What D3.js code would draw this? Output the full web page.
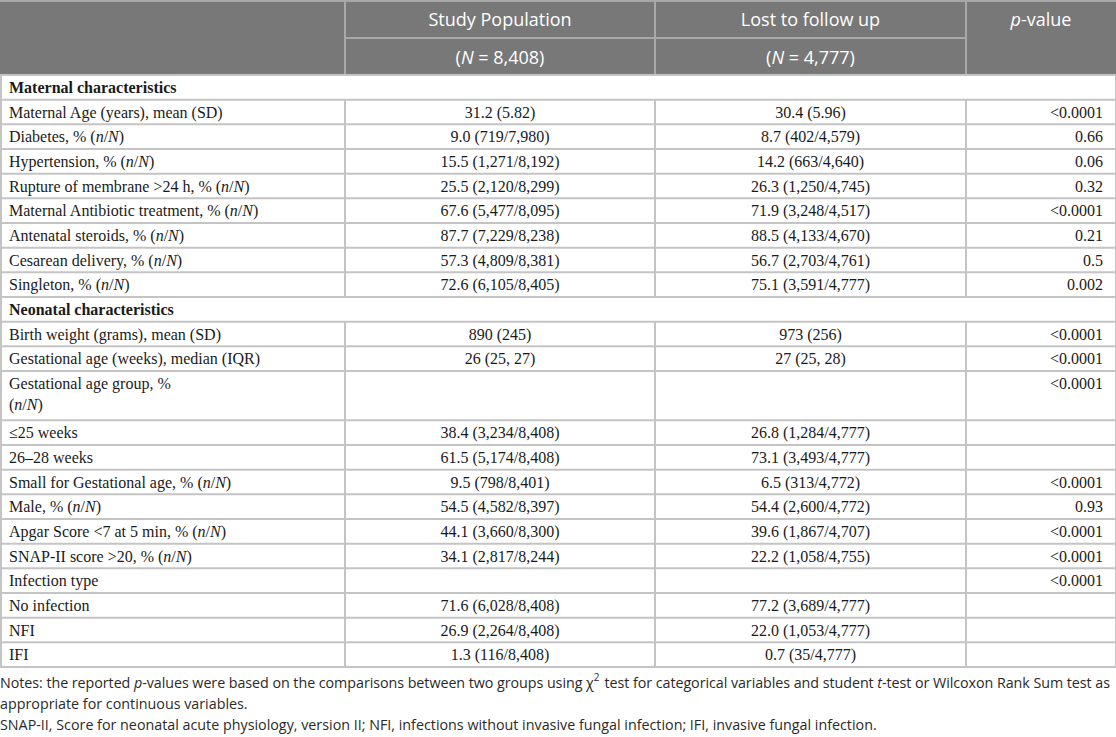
<!DOCTYPE html>
<html>
<head>
<meta charset="utf-8">
<script src="https://cdn.jsdelivr.net/npm/d3@7"></script>
<style>
  body { margin: 0; background: #fff; }
</style>
</head>
<body>
<div class="canvas"></div>
<script>
// table content, *...* marks italic, ^...^ marks superscript
var rowLabels = [
    "Maternal characteristics",
    "Maternal Age (years), mean (SD)",
    "Diabetes, % (*n*/*N*)",
    "Hypertension, % (*n*/*N*)",
    "Rupture of membrane >24 h, % (*n*/*N*)",
    "Maternal Antibiotic treatment, % (*n*/*N*)",
    "Antenatal steroids, % (*n*/*N*)",
    "Cesarean delivery, % (*n*/*N*)",
    "Singleton, % (*n*/*N*)",
    "Neonatal characteristics",
    "Birth weight (grams), mean (SD)",
    "Gestational age (weeks), median (IQR)",
    "Gestational age group, %|(*n*/*N*)",
    "≤25 weeks",
    "26–28 weeks",
    "Small for Gestational age, % (*n*/*N*)",
    "Male, % (*n*/*N*)",
    "Apgar Score <7 at 5 min, % (*n*/*N*)",
    "SNAP-II score >20, % (*n*/*N*)",
    "Infection type",
    "No infection",
    "NFI",
    "IFI"
];
var sectionRows = [0, 9];
var studyValues = ["", "31.2 (5.82)", "9.0 (719/7,980)", "15.5 (1,271/8,192)", "25.5 (2,120/8,299)",
    "67.6 (5,477/8,095)", "87.7 (7,229/8,238)", "57.3 (4,809/8,381)", "72.6 (6,105/8,405)", "",
    "890 (245)", "26 (25, 27)", "", "38.4 (3,234/8,408)", "61.5 (5,174/8,408)", "9.5 (798/8,401)",
    "54.5 (4,582/8,397)", "44.1 (3,660/8,300)", "34.1 (2,817/8,244)", "", "71.6 (6,028/8,408)",
    "26.9 (2,264/8,408)", "1.3 (116/8,408)"];
var lostValues = ["", "30.4 (5.96)", "8.7 (402/4,579)", "14.2 (663/4,640)", "26.3 (1,250/4,745)",
    "71.9 (3,248/4,517)", "88.5 (4,133/4,670)", "56.7 (2,703/4,761)", "75.1 (3,591/4,777)", "",
    "973 (256)", "27 (25, 28)", "", "26.8 (1,284/4,777)", "73.1 (3,493/4,777)", "6.5 (313/4,772)",
    "54.4 (2,600/4,772)", "39.6 (1,867/4,707)", "22.2 (1,058/4,755)", "", "77.2 (3,689/4,777)",
    "22.0 (1,053/4,777)", "0.7 (35/4,777)"];
var pValues = ["", "<0.0001", "0.66", "0.06", "0.32", "<0.0001", "0.21", "0.5", "0.002", "",
    "<0.0001", "<0.0001", "<0.0001", "", "", "<0.0001", "0.93", "<0.0001", "<0.0001", "<0.0001",
    "", "", ""];
var headerTop = ["", "Study Population", "Lost to follow up", "*p*-value"];
var headerSub = ["", "(*N* = 8,408)", "(*N* = 4,777)", ""];
var notes = [
    "Notes: the reported *p*-values were based on the comparisons between two groups using χ^2^ test for categorical variables and student *t*-test or Wilcoxon Rank Sum test as",
    "appropriate for continuous variables.",
    "SNAP-II, Score for neonatal acute physiology, version II; NFI, infections without invasive fungal infection; IFI, invasive fungal infection."
];

var width = 1116, height = 737;
var colEdges = [1, 345, 655, 966, 1116];
var serif = "'Liberation Serif', 'Times New Roman', serif",
    sans = "'Open Sans', 'Noto Sans', sans-serif";
var lineCol = "#c4c4c4";

var svg = d3.select(".canvas").append("svg")
    .attr("width", width)
    .attr("height", height);

// rows in line units, the two-line row takes two
var units = rowLabels.map(function (l) { return l.indexOf("|") >= 0 ? 2 : 1; });
var starts = [0];
units.forEach(function (u, i) { starts.push(starts[i] + u); });
var y = d3.scaleLinear().domain([0, starts[starts.length - 1]]).range([75, 667]);

function richText(sel, str) {
    // split into plain / italic / superscript pieces
    var parts = str.split(/(\*[^*]+\*|\^[^^]+\^)/).filter(function (p) { return p.length; });
    parts.forEach(function (p) {
        var t = sel.append("tspan");
        if (p[0] == "*") {
            t.text(p.slice(1, -1)).style("font-style", "italic");
        } else if (p[0] == "^") {
            t.text(p.slice(1, -1)).attr("dy", -7).style("font-size", "10px");
            sel.append("tspan").attr("dy", 7).text("\u200a");
        } else {
            t.text(p);
        }
    });
}

// header
svg.append("rect")
    .attr("x", 0).attr("y", 0)
    .attr("width", width).attr("height", 75)
    .attr("fill", "#787878");
var hdrLine = "#a8a8a8";
[345, 655, 966].forEach(function (x) {
    svg.append("line").attr("x1", x).attr("x2", x).attr("y1", 0).attr("y2", 75)
       .attr("stroke", hdrLine).attr("stroke-width", 2);
});
svg.append("line").attr("x1", 345).attr("x2", 966).attr("y1", 38).attr("y2", 38)
   .attr("stroke", hdrLine).attr("stroke-width", 2);
svg.append("line").attr("x1", 0).attr("x2", width).attr("y1", 1).attr("y2", 1)
   .attr("stroke", hdrLine).attr("stroke-width", 2);

function headerRow(list, yPos) {
    list.forEach(function (h, i) {
        if (!h) return;
        var t = svg.append("text")
            .attr("x", (colEdges[i] + colEdges[i + 1]) / 2)
            .attr("y", yPos)
            .attr("text-anchor", "middle")
            .attr("fill", "#fff")
            .style("font-family", sans)
            .style("font-size", "18px");
        richText(t, h);
    });
}
headerRow(headerTop, 26);
headerRow(headerSub, 64);

// body grid
for (var i = 0; i <= rowLabels.length; i++) {
    svg.append("line")
       .attr("x1", 0).attr("x2", width)
       .attr("y1", y(starts[i])).attr("y2", y(starts[i]))
       .attr("stroke", lineCol).attr("stroke-width", 2);
}
rowLabels.forEach(function (l, i) {
    var edges = sectionRows.indexOf(i) >= 0 ? [colEdges[0], colEdges[4]] : colEdges;
    edges.forEach(function (x) {
        svg.append("line")
           .attr("x1", x).attr("x2", x)
           .attr("y1", y(starts[i])).attr("y2", y(starts[i + 1]))
           .attr("stroke", lineCol).attr("stroke-width", 2);
    });
});

// body text
rowLabels.forEach(function (l, i) {
    var top = y(starts[i]);
    var isSection = sectionRows.indexOf(i) >= 0;
    l.split("|").forEach(function (line, k) {
        var t = svg.append("text")
            .attr("x", 9)
            .attr("y", top + 18 + k * 21)
            .attr("fill", "#1a1a1a")
            .style("font-family", serif)
            .style("font-size", "16px")
            .style("font-weight", isSection ? "bold" : "normal");
        richText(t, line);
    });
    [studyValues[i], lostValues[i]].forEach(function (v, c) {
        if (!v) return;
        svg.append("text")
            .attr("x", (colEdges[c + 1] + colEdges[c + 2]) / 2)
            .attr("y", top + 18)
            .attr("text-anchor", "middle")
            .attr("fill", "#1a1a1a")
            .style("font-family", serif)
            .style("font-size", "16px")
            .text(v);
    });
    if (pValues[i]) {
        svg.append("text")
            .attr("x", 1103)
            .attr("y", top + 18)
            .attr("text-anchor", "end")
            .attr("fill", "#1a1a1a")
            .style("font-family", serif)
            .style("font-size", "16px")
            .text(pValues[i]);
    }
});

// notes below the table
notes.forEach(function (n, i) {
    var t = svg.append("text")
        .attr("x", 0)
        .attr("y", 688 + i * 21)
        .attr("fill", "#2a2a2a")
        .style("font-family", sans)
        .style("font-size", "14.3px");
    richText(t, n);
    if (i == 0) t.attr("textLength", 1110).attr("lengthAdjust", "spacing");
});
</script>
</body>
</html>
